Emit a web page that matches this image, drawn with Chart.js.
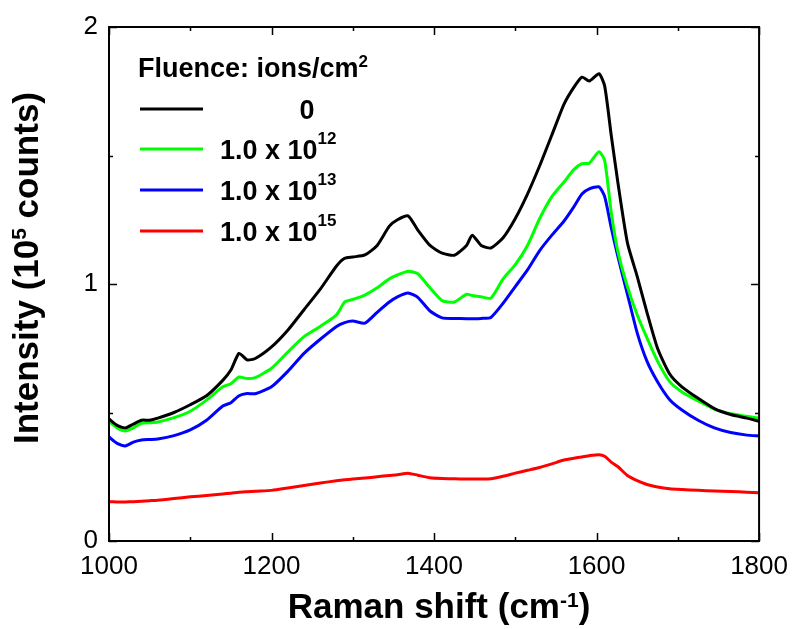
<!DOCTYPE html>
<html>
<head>
<meta charset="utf-8">
<script src="https://cdn.jsdelivr.net/npm/chart.js@4.4.1/dist/chart.umd.min.js"></script>
<style>
  html, body { margin: 0; padding: 0; background: #fff; }
  #wrap { width: 798px; height: 629px; }
</style>
</head>
<body>
<div id="wrap"><canvas id="ramanChart" width="798" height="629"></canvas></div>
<script>
// Raman shift (cm-1) sample points, shared by all spectra
const shifts = [1000, 1010, 1020, 1030, 1040, 1050, 1060, 1080, 1100, 1120, 1140, 1150, 1160, 1170, 1180,
  1200, 1220, 1240, 1260, 1280, 1290, 1300, 1315, 1330, 1345, 1355, 1368, 1380, 1395, 1410, 1425,
  1440, 1447, 1458, 1470, 1485, 1500, 1515, 1530, 1545, 1560, 1572, 1582, 1591, 1603, 1610, 1618,
  1626, 1638, 1650, 1662, 1675, 1690, 1705, 1725, 1745, 1765, 1785, 1800];

// Intensity in 10^5 counts
const fluence0 = [0.475, 0.45, 0.44, 0.455, 0.47, 0.47, 0.478, 0.50, 0.53, 0.565, 0.625, 0.665, 0.73, 0.705, 0.71,
  0.755, 0.82, 0.90, 0.98, 1.07, 1.10, 1.105, 1.113, 1.15, 1.225, 1.25, 1.265, 1.21, 1.15, 1.12, 1.112,
  1.15, 1.19, 1.15, 1.14, 1.18, 1.255, 1.35, 1.46, 1.58, 1.70, 1.765, 1.805, 1.79, 1.818, 1.77, 1.58,
  1.40, 1.16, 1.03, 0.89, 0.75, 0.65, 0.60, 0.555, 0.515, 0.492, 0.478, 0.466];

const fluence1e12 = [0.465, 0.44, 0.428, 0.44, 0.458, 0.46, 0.463, 0.48, 0.505, 0.548, 0.60, 0.612, 0.638, 0.632, 0.636,
  0.672, 0.735, 0.795, 0.835, 0.88, 0.93, 0.94, 0.957, 0.985, 1.02, 1.035, 1.05, 1.04, 0.985, 0.935, 0.93,
  0.96, 0.955, 0.95, 0.945, 1.02, 1.075, 1.15, 1.255, 1.34, 1.397, 1.445, 1.468, 1.47, 1.515, 1.48, 1.28,
  1.13, 0.99, 0.88, 0.79, 0.70, 0.62, 0.58, 0.545, 0.513, 0.495, 0.485, 0.478];

const fluence1e13 = [0.405, 0.38, 0.37, 0.385, 0.393, 0.395, 0.397, 0.41, 0.432, 0.47, 0.525, 0.538, 0.565, 0.574, 0.573,
  0.60, 0.66, 0.73, 0.785, 0.835, 0.85, 0.856, 0.848, 0.89, 0.93, 0.95, 0.965, 0.948, 0.895, 0.868, 0.866,
  0.865, 0.865, 0.866, 0.87, 0.925, 0.99, 1.055, 1.13, 1.19, 1.245, 1.30, 1.35, 1.37, 1.378, 1.34, 1.22,
  1.11, 0.96, 0.81, 0.70, 0.62, 0.55, 0.51, 0.47, 0.44, 0.422, 0.412, 0.409];

const fluence1e15 = [0.153, 0.152, 0.152, 0.153, 0.155, 0.157, 0.159, 0.165, 0.172, 0.177, 0.183, 0.186, 0.19, 0.192, 0.194,
  0.197, 0.206, 0.216, 0.226, 0.234, 0.238, 0.241, 0.245, 0.25, 0.255, 0.258, 0.264, 0.256, 0.246, 0.243, 0.242,
  0.241, 0.241, 0.241, 0.242, 0.252, 0.264, 0.275, 0.286, 0.30, 0.315, 0.322, 0.327, 0.332, 0.336, 0.33, 0.307,
  0.29, 0.255, 0.235, 0.22, 0.21, 0.203, 0.20, 0.197, 0.195, 0.193, 0.19, 0.188];

// Legend labels: [base text, superscript]
const legendLabels = [['0', ''], ['1.0 x 10', '12'], ['1.0 x 10', '13'], ['1.0 x 10', '15']];
const seriesColors = ['#000000', '#00ff00', '#0000ff', '#ff0000'];

const FONT = '"Liberation Sans", Arial, Helvetica, sans-serif';

function toPoints(ys) {
  return shifts.map((x, i) => ({ x: x, y: ys[i] }));
}

// draw text with superscript pieces: parts = [[text, isSup], ...]
function drawParts(ctx, parts, x, y, size, supSize, raise, align) {
  const font = s => 'bold ' + s + 'px ' + FONT;
  let total = 0;
  parts.forEach(p => {
    ctx.font = font(p[1] ? supSize : size);
    total += ctx.measureText(p[0]).width;
  });
  let cx = align === 'center' ? x - total / 2 : x;
  ctx.textAlign = 'left';
  ctx.textBaseline = 'alphabetic';
  parts.forEach(p => {
    ctx.font = font(p[1] ? supSize : size);
    ctx.fillText(p[0], cx, p[1] ? y - raise : y);
    cx += ctx.measureText(p[0]).width;
  });
}

const framePlugin = {
  id: 'frame',
  afterDraw(chart) {
    const ctx = chart.ctx;
    const a = chart.chartArea;
    const xs = chart.scales.x;
    const ys = chart.scales.y;
    ctx.save();

    // box around the plot
    ctx.strokeStyle = '#000';
    ctx.lineWidth = 2;
    ctx.strokeRect(a.left, a.top, a.right - a.left, a.bottom - a.top);

    // inward ticks on all four sides
    ctx.lineWidth = 1.5;
    ctx.beginPath();
    xs.ticks.forEach(t => {
      const px = Math.round(xs.getPixelForValue(t.value)) + 0.5;
      const len = t.value % 200 === 0 ? 8 : 4;
      ctx.moveTo(px, a.bottom); ctx.lineTo(px, a.bottom - len);
      ctx.moveTo(px, a.top); ctx.lineTo(px, a.top + len);
    });
    ys.ticks.forEach(t => {
      const py = Math.round(ys.getPixelForValue(t.value)) + 0.5;
      const len = Number.isInteger(t.value) ? 8 : 4;
      ctx.moveTo(a.left, py); ctx.lineTo(a.left + len, py);
      ctx.moveTo(a.right, py); ctx.lineTo(a.right - len, py);
    });
    ctx.stroke();

    ctx.fillStyle = '#000';
    // x axis title
    drawParts(ctx, [['Raman shift (cm', false], ['-1', true], [')', false]],
      439, 618, 35, 21, 11, 'center');

    // y axis title
    ctx.save();
    ctx.translate(38, 268);
    ctx.rotate(-Math.PI / 2);
    drawParts(ctx, [['Intensity (10', false], ['5', true], [' counts)', false]],
      0, 0, 35, 21, 12, 'center');
    ctx.restore();

    // legend
    drawParts(ctx, [['Fluence: ions/cm', false], ['2', true]], 138, 77, 27, 17, 10, 'left');
    const rowY = [109, 149, 190, 231];
    legendLabels.forEach((lab, i) => {
      ctx.strokeStyle = seriesColors[i];
      ctx.lineWidth = 3;
      ctx.beginPath();
      ctx.moveTo(140, rowY[i]);
      ctx.lineTo(203, rowY[i]);
      ctx.stroke();
      ctx.fillStyle = '#000';
      if (lab[1] === '') {
        drawParts(ctx, [[lab[0], false]], 307, rowY[i] + 10, 27, 17, 15, 'center');
      } else {
        drawParts(ctx, [[lab[0], false], [lab[1], true]], 220, rowY[i] + 10, 27, 17, 15, 'left');
      }
    });

    ctx.restore();
  }
};

const datasets = [fluence0, fluence1e12, fluence1e13, fluence1e15].map((ys, i) => ({
  label: legendLabels[i].join(''),
  data: toPoints(ys),
  borderColor: seriesColors[i],
  borderWidth: 3,
  pointRadius: 0,
  tension: 0.2,
  fill: false
}));

// draw the black spectrum on top
datasets[0].order = -1;

new Chart(document.getElementById('ramanChart').getContext('2d'), {
  type: 'line',
  data: { datasets: datasets },
  options: {
    responsive: false,
    animation: false,
    layout: { autoPadding: false, padding: { top: 27, right: 35, left: 0, bottom: 0 } },
    plugins: {
      legend: { display: false },
      tooltip: { enabled: false }
    },
    scales: {
      x: {
        type: 'linear',
        min: 1000,
        max: 1800,
        grid: { display: false, drawTicks: false },
        border: { display: false },
        ticks: {
          stepSize: 100,
          autoSkip: false,
          maxRotation: 0,
          padding: 10,
          color: '#000',
          font: { family: FONT, size: 26 },
          callback: v => (v % 200 === 0 ? String(v) : '')
        },
        afterFit: scale => { scale.height = 88; }
      },
      y: {
        min: 0,
        max: 2,
        grid: { display: false, drawTicks: false },
        border: { display: false },
        ticks: {
          stepSize: 0.5,
          autoSkip: false,
          padding: 11,
          color: '#000',
          font: { family: FONT, size: 26 },
          callback: v => (Number.isInteger(v) ? String(v) : '')
        },
        afterFit: scale => { scale.width = 109; }
      }
    }
  },
  plugins: [framePlugin]
});
</script>
</body>
</html>
